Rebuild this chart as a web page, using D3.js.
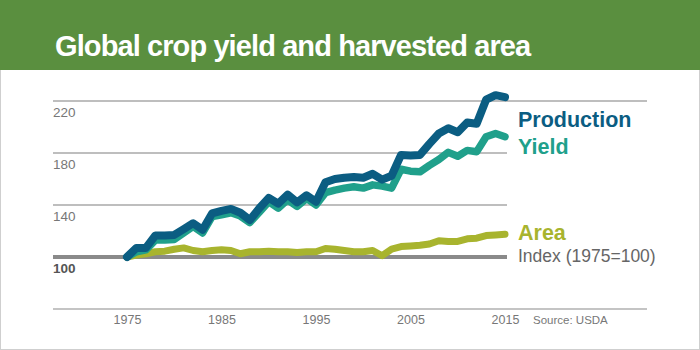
<!DOCTYPE html>
<html>
<head>
<meta charset="utf-8">
<script src="https://cdn.jsdelivr.net/npm/d3@7"></script>
<style>
  html, body { margin: 0; padding: 0; background: #fff; }
  svg { display: block; font-family: "Liberation Sans", Arial, Helvetica, sans-serif; }
</style>
</head>
<body>
<svg id="chart" width="700" height="350"></svg>
<script>
const years = d3.range(1975, 2016);
const production = [100,107,107,116.5,116.5,117,121.5,126,121,133.5,135.5,137,134,128.5,137.5,145.5,141,148,142,147.5,142.5,157.5,160,161,161.5,161,164,159.5,162.5,178.5,178,178.5,187,195,199,196,203.5,202.5,221,224.5,223];
const yieldIdx = [100,104,105.5,113,113,113.5,118.5,123.5,118.5,131,132.5,134,131.5,126.5,134.5,142.5,137.5,144,139,145,140,149.5,151.5,153,154,153,155.5,154.5,153,167.5,166,165.5,170.5,175,180.5,177.5,182,181,192.5,195,192.5];
const area = [100,101.5,102.5,104,104.5,106,107,105,104,105,105.5,105,102.5,104,104,104.5,104,104,103.5,104,104,106.5,106,105,104,104,105,101,106,108,108.5,109,110,112.5,112,112,114,114.5,116.5,117,117.5];
const yTicks = [100, 140, 180, 220];
const xTicks = [1975, 1985, 1995, 2005, 2015];
const seriesNames = ["Production", "Yield", "Area"];
const seriesColors = ["#0b5d82", "#20a08b", "#a8b42e"];
const title = "Global crop yield and harvested area";
const indexNote = "Index (1975=100)";
const source = "Source: USDA";

const svg = d3.select("#chart");

// frame
svg.append("rect").attr("x", 0.5).attr("y", 60).attr("width", 699).attr("height", 289.5)
  .attr("fill", "#fff").attr("stroke", "#cfcfcf").attr("stroke-width", 1);
// banner
svg.append("rect").attr("x", 0).attr("y", 0).attr("width", 700).attr("height", 70).attr("fill", "#5a8f3f");
svg.append("text").attr("x", 55).attr("y", 56).attr("fill", "#fff")
  .attr("font-size", 29).attr("font-weight", "bold").attr("letter-spacing", -0.9)
  .text(title);

const x = d3.scaleLinear().domain([1975, 2015]).range([127, 505]);
const y = d3.scaleLinear().domain([100, 220]).range([257, 101]);

// gridlines
const gridG = svg.append("g");
yTicks.filter(t => t !== 100).forEach(t => {
  gridG.append("line").attr("x1", 53).attr("x2", t === 220 ? 647 : 507)
    .attr("y1", y(t)).attr("y2", y(t)).attr("stroke", "#a8a8a8").attr("stroke-width", 1.5);
});
yTicks.forEach(t => {
  gridG.append("text").attr("x", 53).attr("y", y(t) + 16)
    .attr("font-size", 13.5)
    .attr("font-weight", t === 100 ? "bold" : "normal")
    .attr("fill", t === 100 ? "#555" : "#777")
    .text(t);
});

// bottom axis
const xAxis = d3.axisBottom(x).tickValues(xTicks).tickFormat(d3.format("d")).tickSize(0).tickPadding(6);
const axG = svg.append("g").attr("transform", "translate(0,309)").call(xAxis);
axG.select(".domain").remove();
axG.selectAll("text").attr("font-size", 12.5).attr("fill", "#777").attr("font-family", "\"Liberation Sans\", Arial, sans-serif");
svg.append("line").attr("x1", 53).attr("x2", 647).attr("y1", 309).attr("y2", 309)
  .attr("stroke", "#b0b0b0").attr("stroke-width", 1.5);
svg.append("text").attr("x", 533).attr("y", 324).attr("font-size", 11.5).attr("fill", "#777").text(source);

// baseline 100
svg.append("line").attr("x1", 53).attr("x2", 507).attr("y1", y(100)).attr("y2", y(100))
  .attr("stroke", "#8a8a8a").attr("stroke-width", 4);

// lines
const line = d3.line().x((d, i) => x(years[i])).y(d => y(d));
const data = [area, yieldIdx, production];
const cols = [seriesColors[2], seriesColors[1], seriesColors[0]];
const widths = [7, 7.5, 8];
data.forEach((s, k) => {
  svg.append("path").datum(s).attr("d", line)
    .attr("fill", "none").attr("stroke", cols[k]).attr("stroke-width", widths[k])
    .attr("stroke-linecap", "round").attr("stroke-linejoin", "round");
});

// legend labels
const lx = 518;
svg.append("text").attr("x", lx).attr("y", 127).attr("font-size", 21.5).attr("font-weight", "bold").attr("fill", seriesColors[0]).text(seriesNames[0]);
svg.append("text").attr("x", lx).attr("y", 154).attr("font-size", 21.5).attr("font-weight", "bold").attr("fill", seriesColors[1]).text(seriesNames[1]);
svg.append("text").attr("x", lx).attr("y", 240).attr("font-size", 21.5).attr("font-weight", "bold").attr("fill", seriesColors[2]).text(seriesNames[2]);
svg.append("text").attr("x", lx).attr("y", 262).attr("font-size", 17.5).attr("fill", "#666").text(indexNote);
</script>
</body>
</html>
